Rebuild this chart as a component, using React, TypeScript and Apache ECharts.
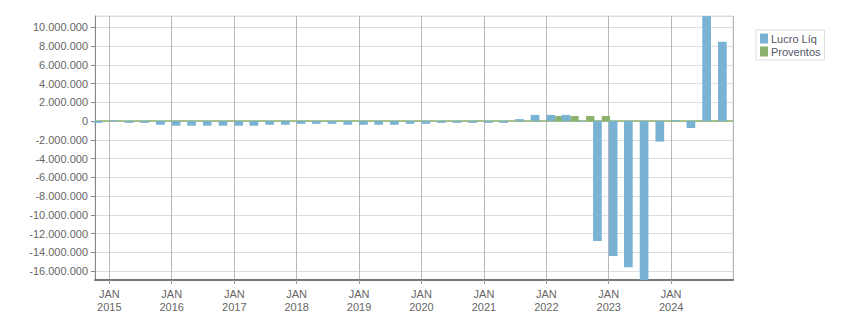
import React, { useEffect, useRef } from 'react';
import * as echarts from 'echarts';

// Quarterly periods (Q4 2014 .. Q4 2024)
const quarters: string[] = [
  '2014-Q4',
  '2015-Q1', '2015-Q2', '2015-Q3', '2015-Q4',
  '2016-Q1', '2016-Q2', '2016-Q3', '2016-Q4',
  '2017-Q1', '2017-Q2', '2017-Q3', '2017-Q4',
  '2018-Q1', '2018-Q2', '2018-Q3', '2018-Q4',
  '2019-Q1', '2019-Q2', '2019-Q3', '2019-Q4',
  '2020-Q1', '2020-Q2', '2020-Q3', '2020-Q4',
  '2021-Q1', '2021-Q2', '2021-Q3', '2021-Q4',
  '2022-Q1', '2022-Q2', '2022-Q3', '2022-Q4',
  '2023-Q1', '2023-Q2', '2023-Q3', '2023-Q4',
  '2024-Q1', '2024-Q2', '2024-Q3', '2024-Q4',
];

const lucroLiq: number[] = [
  -200000,
  100000, -200000, -200000, -400000,
  -500000, -500000, -500000, -500000,
  -500000, -500000, -400000, -400000,
  -300000, -300000, -300000, -400000,
  -400000, -400000, -400000, -300000,
  -300000, -200000, -200000, -200000,
  -200000, -200000, 200000, 650000,
  650000, 650000, -100000, -12800000,
  -14400000, -15600000, -16960000, -2200000,
  100000, -750000, 11200000, 8450000,
];

const proventos: (number | null)[] = [
  null,
  null, null, null, null,
  null, null, null, null,
  null, null, null, null,
  null, null, null, null,
  null, null, null, null,
  null, null, null, null,
  null, null, null, null,
  530000, 530000, 530000, 530000,
  null, null, null, null,
  null, null, null, null,
];

const seriesNames = ['Lucro Líq', 'Proventos'];
const monthLabel = 'JAN';
const axisStart = '2014-10-09';
const axisEnd = '2024-12-28';

function quarterTime(q: string): number {
  const [y, n] = q.split('-Q').map(Number);
  // the quarter's middle month, 20th day
  return Date.UTC(y, (n - 1) * 3 + 1, 20);
}

function dateTime(s: string): number {
  const [y, m, d] = s.split('-').map(Number);
  return Date.UTC(y, m - 1, d);
}

function fmtNum(v: number): string {
  const neg = v < 0;
  const s = Math.round(Math.abs(v)).toString().replace(/\B(?=(\d{3})+(?!\d))/g, '.');
  return (neg ? '-' : '') + s;
}

const BLUE = '#7ab2d4';
const GREEN = '#8cb16c';
const FONT = 'Liberation Sans';

export default function App() {
  const ref = useRef<HTMLDivElement>(null);

  useEffect(() => {
    document.body.style.margin = '0';
    if (!ref.current) return;
    const chart = echarts.init(ref.current, undefined, { renderer: 'svg' });
    const DAY = 24 * 3600 * 1000;
    const xMin = dateTime(axisStart);
    const xMax = dateTime(axisEnd);
    const option: any = {
      animation: false,
      useUTC: true,
      backgroundColor: '#ffffff',
      textStyle: { fontFamily: FONT },
      grid: {
        left: 95,
        right: 118,
        top: 16,
        bottom: 32,
        show: true,
        borderColor: '#dddddd',
        borderWidth: 1,
        containLabel: false,
      },
      legend: {
        orient: 'vertical',
        left: 756,
        top: 30,
        padding: [3, 4, 3, 4],
        itemWidth: 8,
        itemHeight: 10,
        itemGap: 2,
        borderColor: '#dddddd',
        borderWidth: 1,
        icon: 'rect',
        textStyle: { fontFamily: FONT, fontSize: 11, color: '#555566', padding: [0, 0, 0, -2] },
        data: seriesNames,
      },
      xAxis: [
        {
          type: 'time',
          min: xMin,
          max: xMax,
          splitNumber: 10,
          minInterval: 365 * DAY,
          maxInterval: 366 * DAY,
          axisLine: { onZero: false, lineStyle: { color: '#777777', width: 2 } },
          axisTick: { show: true, length: 4, lineStyle: { color: '#999999' } },
          splitLine: { show: true, lineStyle: { color: '#b8b8b8', width: 1 } },
          axisLabel: {
            showMinLabel: false,
            showMaxLabel: false,
            margin: 7,
            fontFamily: FONT,
            fontSize: 11,
            color: '#666666',
            lineHeight: 13,
            formatter: (value: number) => {
              const d = new Date(value);
              if (d.getUTCMonth() === 0 && d.getUTCDate() === 1) {
                return monthLabel + '\n' + d.getUTCFullYear();
              }
              return '';
            },
          },
        },
        {
          type: 'value',
          show: false,
          min: xMin,
          max: xMax,
          splitLine: { show: false },
        },
      ],
      yAxis: {
        type: 'value',
        min: (v: any) => v.min,
        max: (v: any) => v.max,
        splitNumber: 14,
        axisLine: { show: true, lineStyle: { color: '#888888', width: 1 } },
        axisTick: { show: true, length: 4, lineStyle: { color: '#888888' } },
        splitLine: { show: true, lineStyle: { color: '#dddddd', width: 1 } },
        axisLabel: {
          showMinLabel: false,
          showMaxLabel: false,
          margin: 7,
          fontFamily: FONT,
          fontSize: 11,
          color: '#666666',
          formatter: (v: number) => fmtNum(v),
        },
      },
      series: [
        {
          name: seriesNames[0],
          type: 'bar',
          xAxisIndex: 1,
          barWidth: 8.7,
          barGap: '0%',
          z: 3,
          itemStyle: { color: BLUE },
          data: quarters.map((q, i) => [quarterTime(q), lucroLiq[i]]),
        },
        {
          name: seriesNames[1],
          type: 'bar',
          xAxisIndex: 1,
          barWidth: 8.3,
          barGap: '0%',
          z: 2,
          itemStyle: { color: GREEN },
          data: quarters.map((q, i) => [quarterTime(q), proventos[i]]),
          markLine: {
            silent: true,
            symbol: 'none',
            z: 1,
            label: { show: false },
            lineStyle: { color: GREEN, width: 1.5, type: 'solid', opacity: 1 },
            data: [{ yAxis: 0 }],
          },
        },
      ],
    };
    chart.setOption(option);
    return () => chart.dispose();
  }, []);

  return <div ref={ref} style={{ width: 851, height: 313 }} />;
}
